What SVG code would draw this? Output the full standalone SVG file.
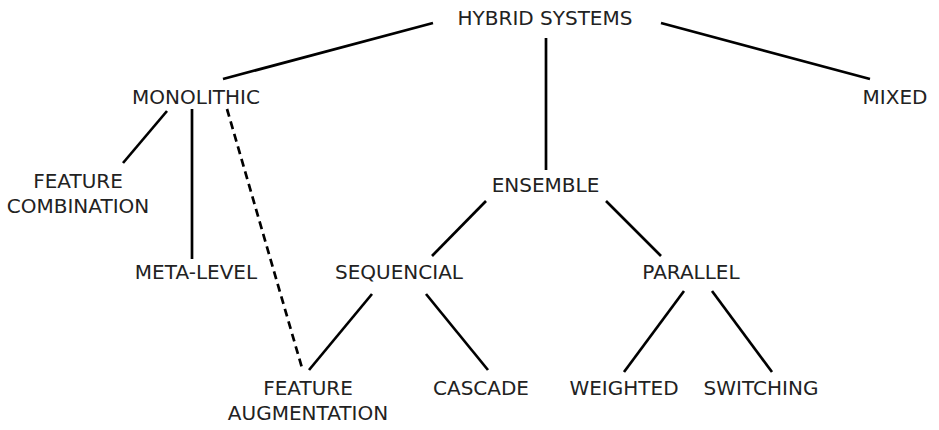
<svg xmlns="http://www.w3.org/2000/svg" width="939" height="430" viewBox="0 0 939 430">
<style>
text{font-family:"DejaVu Sans",sans-serif;font-size:20px;fill:#222;text-anchor:middle}
.c line{stroke:#000;stroke-width:2.7;stroke-linecap:butt}
.c .d{stroke-dasharray:8 5}
</style>
<rect width="939" height="430" fill="#fff"/>
<g class="c" id="connectors">
<line x1="433" y1="23" x2="223" y2="79"/>
<line x1="546" y1="38" x2="546" y2="170"/>
<line x1="661" y1="23" x2="870" y2="79"/>
<line x1="167" y1="111" x2="123" y2="163"/>
<line x1="192" y1="109" x2="192" y2="259"/>
<line class="d" x1="227" y1="109" x2="302" y2="368"/>
<line x1="486" y1="201" x2="432" y2="256"/>
<line x1="606" y1="201" x2="661" y2="256"/>
<line x1="372" y1="294" x2="309" y2="370"/>
<line x1="426" y1="294" x2="488" y2="370"/>
<line x1="684" y1="291" x2="624" y2="372"/>
<line x1="712" y1="291" x2="772" y2="372"/>
</g>
<g id="hybrid"><text x="545" y="25">HYBRID SYSTEMS</text></g>
<g id="monolithic"><text x="196" y="104">MONOLITHIC</text></g>
<g id="mixed"><text x="895" y="104">MIXED</text></g>
<g id="feature-combination"><text x="78" y="188">FEATURE</text><text x="78" y="213">COMBINATION</text></g>
<g id="ensemble"><text x="545.5" y="192">ENSEMBLE</text></g>
<g id="meta-level"><text x="196" y="279">META-LEVEL</text></g>
<g id="sequencial"><text x="399" y="279">SEQUENCIAL</text></g>
<g id="parallel"><text x="691" y="279">PARALLEL</text></g>
<g id="feature-augmentation"><text x="308" y="395">FEATURE</text><text x="308" y="420">AUGMENTATION</text></g>
<g id="cascade"><text x="481" y="395">CASCADE</text></g>
<g id="weighted"><text x="624" y="395">WEIGHTED</text></g>
<g id="switching"><text x="761" y="395">SWITCHING</text></g>
</svg>
